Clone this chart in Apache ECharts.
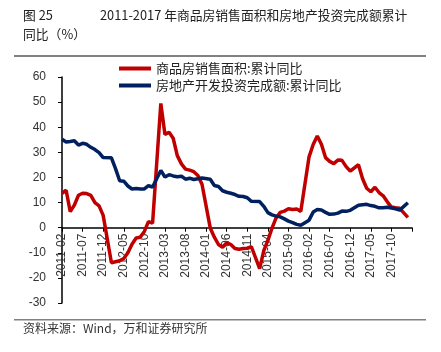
<!DOCTYPE html>
<html>
<head>
<meta charset="utf-8">
<script src="https://cdn.jsdelivr.net/npm/echarts@6/dist/echarts.min.js"></script>
<style>
  html, body { margin: 0; padding: 0; background: #fff; }
  #chart1 { width: 441px; height: 352px; }
</style>
</head>
<body>
<div id="chart1"></div>
<script>
// 月份（一月无单独数据，留空）
var months = [
  '2011-02', '2011-03', '2011-04', '2011-05', '2011-06', '2011-07', '2011-08', '2011-09', '2011-10', '2011-11', '2011-12',
  '2012-01', '2012-02', '2012-03', '2012-04', '2012-05', '2012-06', '2012-07', '2012-08', '2012-09', '2012-10', '2012-11', '2012-12',
  '2013-01', '2013-02', '2013-03', '2013-04', '2013-05', '2013-06', '2013-07', '2013-08', '2013-09', '2013-10', '2013-11', '2013-12',
  '2014-01', '2014-02', '2014-03', '2014-04', '2014-05', '2014-06', '2014-07', '2014-08', '2014-09', '2014-10', '2014-11', '2014-12',
  '2015-01', '2015-02', '2015-03', '2015-04', '2015-05', '2015-06', '2015-07', '2015-08', '2015-09', '2015-10', '2015-11', '2015-12',
  '2016-01', '2016-02', '2016-03', '2016-04', '2016-05', '2016-06', '2016-07', '2016-08', '2016-09', '2016-10', '2016-11', '2016-12',
  '2017-01', '2017-02', '2017-03', '2017-04', '2017-05', '2017-06', '2017-07', '2017-08', '2017-09', '2017-10', '2017-11', '2017-12',
  '2018-01', '2018-02', '2018-03'
];

// 商品房销售面积:累计同比
var salesArea = [
  13.7, 14.9, 6.4, 9.0, 12.9, 13.7, 13.6, 12.9, 10.0, 8.7, 4.9,
  null, -14.0, -13.6, -13.2, -12.3, -10.0, -6.6, -4.1, -3.8, -1.5, 2.4, 1.8,
  null, 49.5, 37.1, 38.0, 35.6, 28.7, 25.4, 23.3, 22.9, 22.3, 20.8, 17.3,
  null, -0.1, -3.8, -6.7, -7.8, -6.0, -6.7, -8.3, -8.6, -8.3, -8.2, -7.6,
  null, -16.3, -9.2, -5.1, -0.2, 3.9, 6.1, 6.6, 7.5, 7.2, 7.4, 6.5,
  null, 28.2, 33.1, 36.5, 33.2, 27.9, 26.4, 25.5, 26.9, 26.8, 24.3, 22.5,
  null, 25.1, 19.5, 15.7, 14.3, 16.1, 14.0, 12.7, 10.3, 8.2, 7.9, 7.7,
  null, 4.1, null
];

// 房地产开发投资完成额:累计同比
var investment = [
  35.2, 34.1, 34.3, 34.6, 32.9, 33.6, 33.2, 32.0, 31.1, 29.9, 27.9,
  null, 27.8, 23.5, 18.7, 18.5, 16.6, 15.4, 15.6, 15.4, 15.4, 16.7, 16.2,
  null, 22.8, 20.2, 21.1, 20.6, 20.3, 20.5, 19.3, 19.7, 19.2, 19.5, 19.8,
  null, 19.3, 16.8, 16.4, 14.7, 14.1, 13.7, 13.2, 12.5, 12.4, 11.9, 10.5,
  null, 10.4, 8.5, 6.0, 5.1, 4.6, 4.3, 3.5, 2.6, 2.0, 1.3, 1.0,
  null, 3.0, 6.2, 7.2, 7.0, 6.1, 5.3, 5.4, 5.8, 6.6, 6.5, 6.9,
  null, 8.9, 9.1, 9.3, 8.8, 8.5, 7.9, 7.9, 8.1, 7.8, 7.5, 7.0,
  null, 9.9, null
];

var seriesNames = ['商品房销售面积:累计同比', '房地产开发投资完成额:累计同比'];
var titleNo = '图 25';
var titleMain = '2011-2017 年商品房销售面积和房地产投资完成额累计';
var titleTail = '同比（%）';
var sourceText = '资料来源：Wind，万和证券研究所';

var chart = echarts.init(document.getElementById('chart1'));
var numFont = '"Liberation Sans", Arial, sans-serif';
var cjkFont = '"Noto Sans CJK SC", sans-serif';
var titleFont = '12.8px ' + cjkFont;

var option = {
  animation: false,
  grid: {
    left: 62,
    right: 29,
    top: 77,
    bottom: 49,
    containLabel: false
  },
  legend: {
    orient: 'vertical',
    left: 114,
    top: 57,
    icon: 'rect',
    itemWidth: 32,
    itemHeight: 4,
    itemGap: 4,
    textStyle: {
      fontFamily: cjkFont,
      fontSize: 13,
      color: '#222'
    },
    data: seriesNames
  },
  xAxis: {
    type: 'category',
    boundaryGap: false,
    data: months,
    // 轴放在 0 刻度处（grid 底部为 -30）
    offset: -75.3,
    axisLine: {
      onZero: false,
      lineStyle: { color: '#000', width: 1.5 }
    },
    axisTick: {
      length: 4,
      interval: function (i) { return i % 5 === 0; },
      lineStyle: { color: '#000' }
    },
    axisLabel: {
      rotate: 90,
      margin: 6,
      fontFamily: numFont,
      fontSize: 12,
      color: '#333',
      interval: function (i) { return i % 5 === 0 && i < months.length - 1; }
    },
    splitLine: { show: false }
  },
  yAxis: {
    type: 'value',
    min: -30,
    max: 60,
    interval: 10,
    axisLine: {
      show: true,
      lineStyle: { color: '#000', width: 1.5 }
    },
    axisTick: {
      show: true,
      length: 4,
      lineStyle: { color: '#000' }
    },
    axisLabel: {
      margin: 16,
      fontFamily: numFont,
      fontSize: 12,
      color: '#333'
    },
    splitLine: { show: false }
  },
  series: [{
    name: seriesNames[0],
    type: 'line',
    data: salesArea,
    connectNulls: true,
    symbol: 'none',
    lineStyle: { color: '#C00000', width: 3.5 },
    itemStyle: { color: '#C00000' }
  }, {
    name: seriesNames[1],
    type: 'line',
    data: investment,
    connectNulls: true,
    symbol: 'none',
    lineStyle: { color: '#002060', width: 3.5 },
    itemStyle: { color: '#002060' }
  }],
  graphic: [{
    type: 'text',
    x: 23,
    y: 15,
    style: { text: titleNo, font: titleFont, fill: '#222', verticalAlign: 'middle' }
  }, {
    type: 'text',
    x: 100,
    y: 15,
    style: { text: titleMain, font: titleFont, fill: '#222', verticalAlign: 'middle' }
  }, {
    type: 'text',
    x: 23,
    y: 34,
    style: { text: titleTail, font: titleFont, fill: '#222', verticalAlign: 'middle' }
  }, {
    type: 'rect',
    shape: { x: 14, y: 55, width: 412, height: 2 },
    style: { fill: '#808080' }
  }, {
    type: 'rect',
    shape: { x: 14, y: 319, width: 412, height: 1.5 },
    style: { fill: '#808080' }
  }, {
    type: 'text',
    left: 23,
    top: 322,
    style: {
      text: sourceText,
      font: '12px ' + cjkFont,
      fill: '#333'
    }
  }]
};
chart.setOption(option, true);
</script>
</body>
</html>
